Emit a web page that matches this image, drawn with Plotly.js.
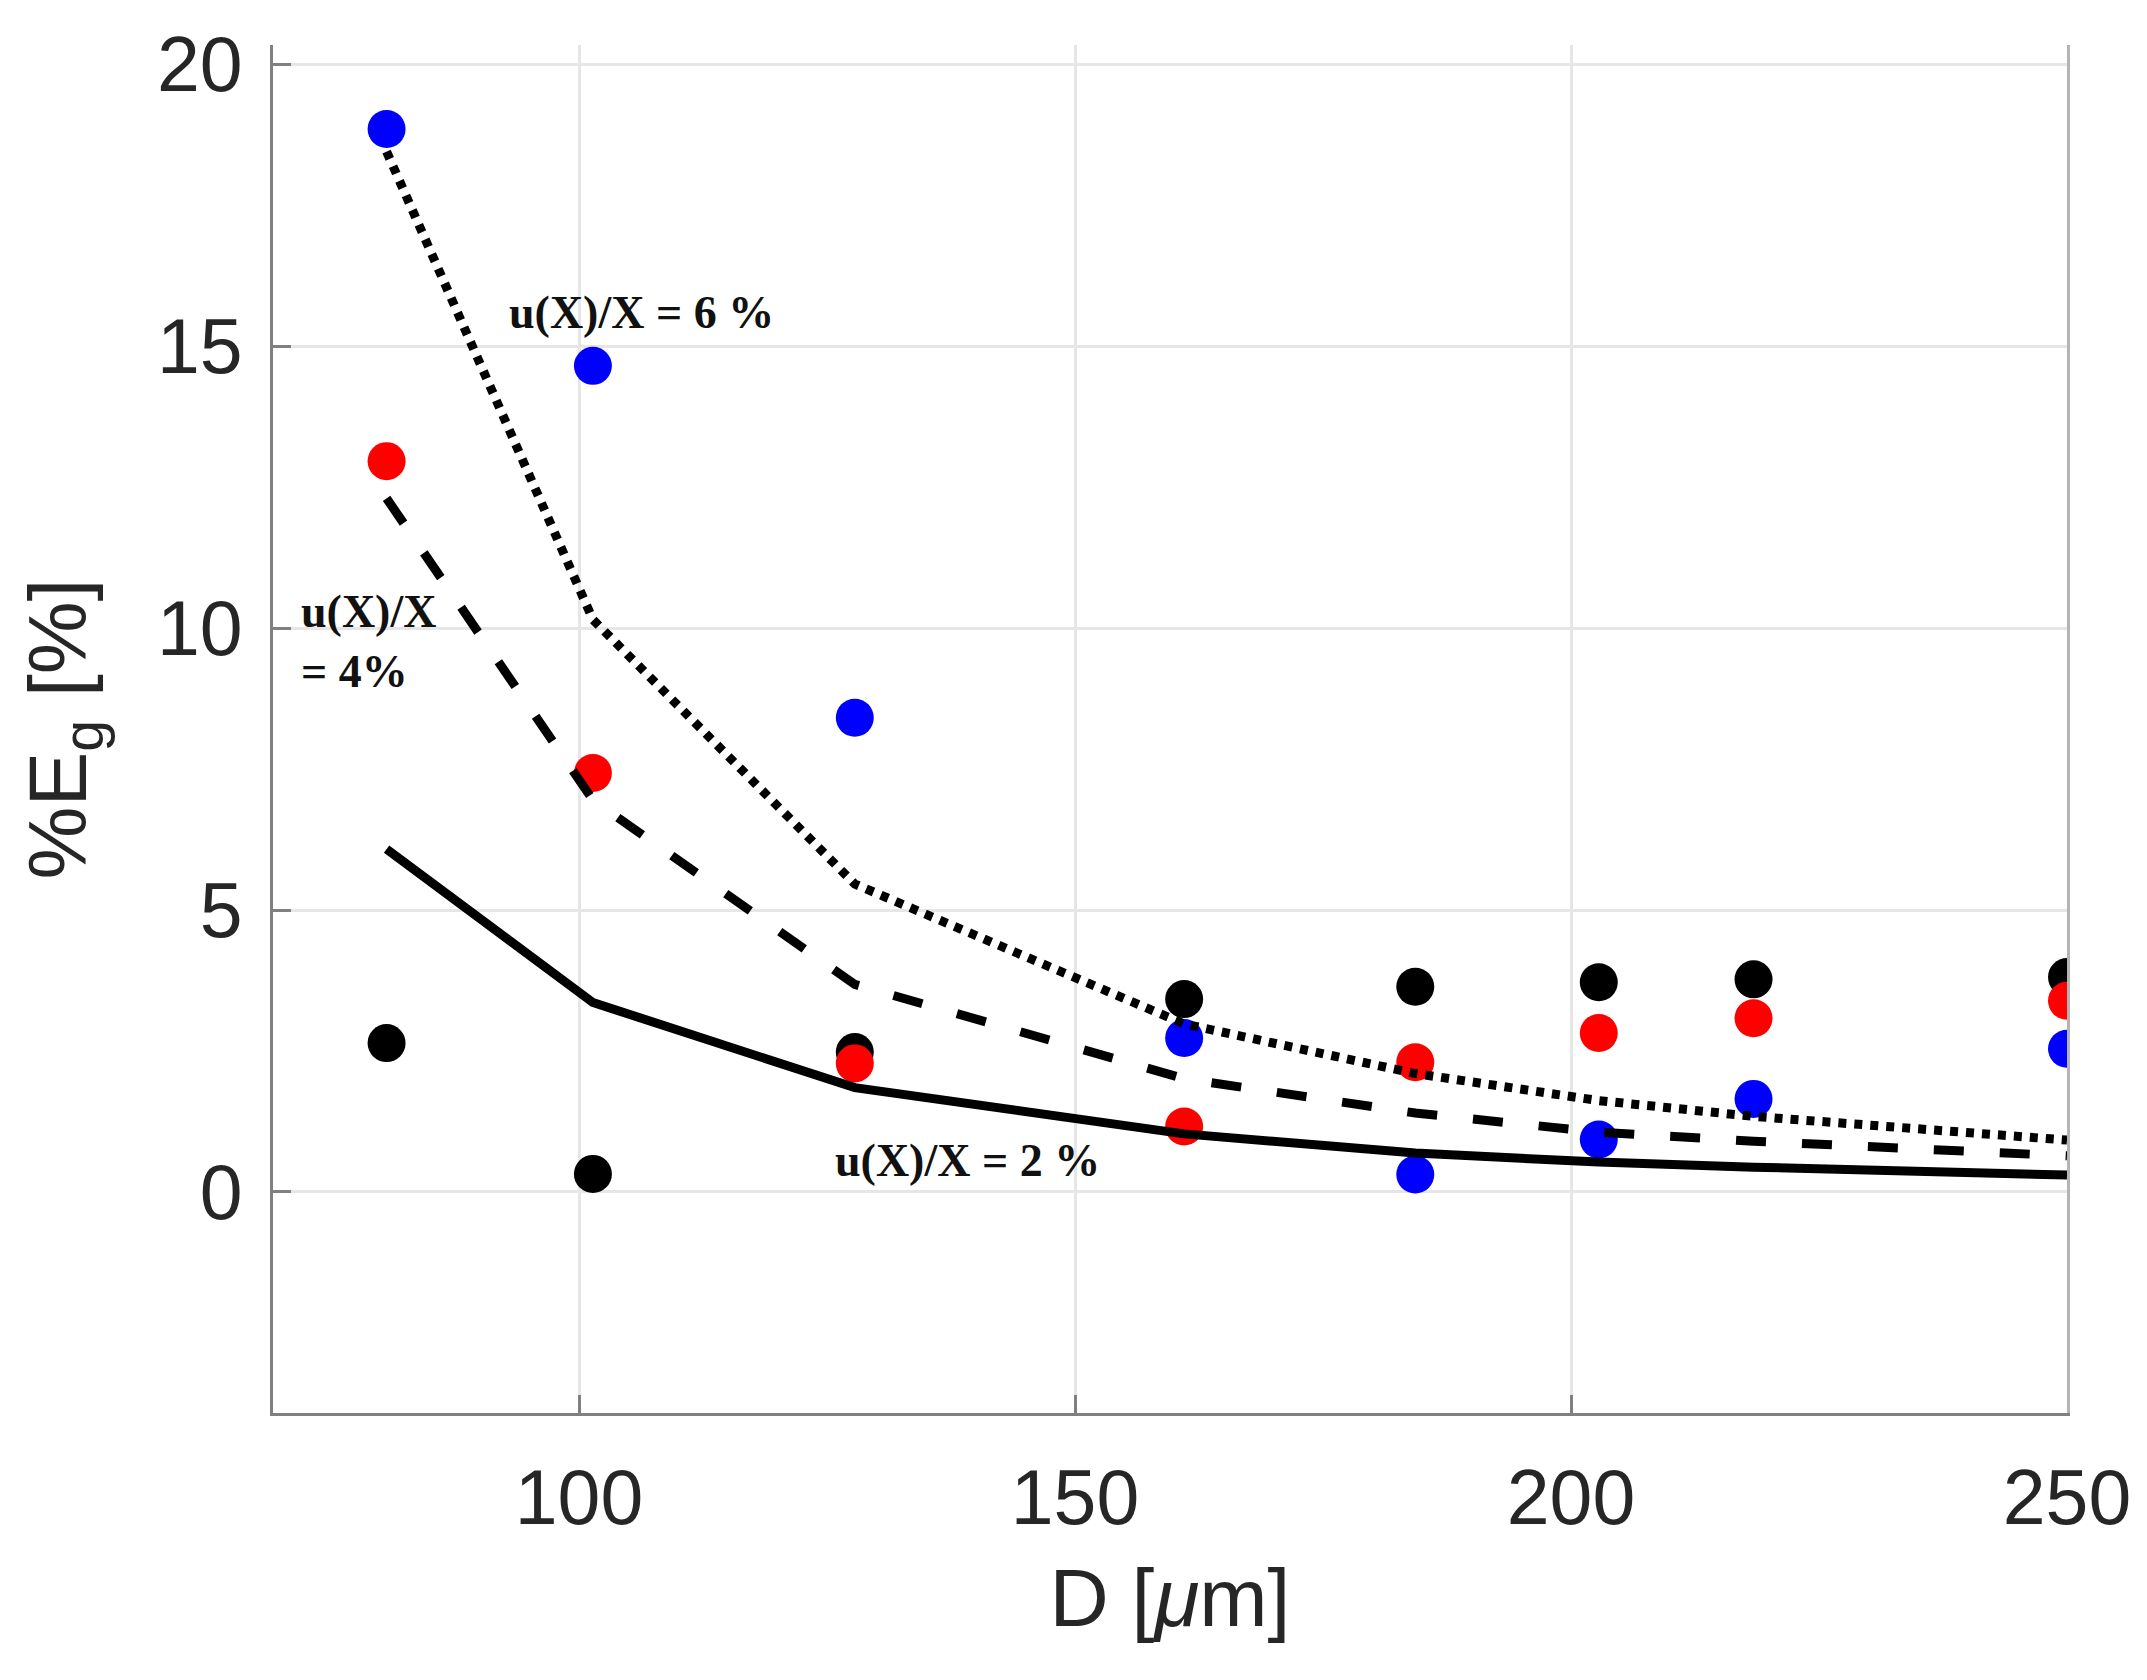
<!DOCTYPE html>
<html>
<head>
<meta charset="utf-8">
<script src="https://cdn.plot.ly/plotly-3.0.1.min.js"></script>
<style>
  html, body { margin: 0; padding: 0; background: #fff; }
  #chart { width: 2147px; height: 1680px; }
</style>
</head>
<body>
<div id="chart"></div>
<script>
// Particle diameter D [um]
const diameters = [80.6, 101.4, 127.8, 161.0, 184.3, 202.8, 218.4, 250];

// %Eg measured points
const blackPts = [2.64, 0.32, 2.48, 3.42, 3.64, 3.72, 3.77, 3.81];
const redPts   = [12.96, 7.43, 2.28, 1.16, 2.30, 2.82, 3.08, 3.39];
const bluePts  = [18.85, 14.65, 8.41, 2.73, 0.31, 0.93, 1.65, 2.54];

// u(X)/X curves
const curve2 = [6.08, 3.36, 1.85, 1.03, 0.69, 0.53, 0.44, 0.30];
const curve4 = [12.3, 6.95, 3.68, 2.01, 1.40, 1.06, 0.90, 0.64];
const curve6 = [18.45, 10.15, 5.46, 2.98, 2.10, 1.62, 1.34, 0.92];

const xTicks = [100, 150, 200, 250];
const yTicks = [0, 5, 10, 15, 20];

const axisGray = '#808080';
const tickFont = { family: 'Liberation Sans, Arial, sans-serif', size: 77, color: '#262626' };
const titleFont = { family: 'Liberation Sans, Arial, sans-serif', size: 82, color: '#262626' };
const noteFont = { family: 'Liberation Serif, Times New Roman, serif', size: 46, color: '#111', weight: 'bold' };

const dots = (y, color) => ({
    x: diameters, y, type: 'scatter', mode: 'markers', hoverinfo: 'skip',
    marker: { color, size: 38, line: { width: 0 } },
});
const curve = (y, dash) => ({
    x: diameters, y, type: 'scatter', mode: 'lines', hoverinfo: 'skip',
    line: { color: '#000', width: 9, dash },
});

// markers first, lines painted over them like in the original
const traces = [
    dots(blackPts, '#000000'),
    dots(redPts, '#ff0000'),
    dots(bluePts, '#0000ff'),
    curve(curve2, 'solid'),
    curve(curve4, '30px,36px'),
    curve(curve6, '8px,8px'),
];

const baseAxis = {
    ticks: 'inside', ticklen: 18, tickwidth: 3, tickcolor: axisGray,
    showline: true, linecolor: axisGray, linewidth: 3,
    showgrid: true, gridcolor: '#e6e6e6', gridwidth: 3,
    zeroline: false, tickfont: tickFont,
};

const layout = {
    width: 2147, height: 1680,
    margin: { l: 273, r: 80, t: 45, b: 267 },
    paper_bgcolor: '#fff', plot_bgcolor: '#fff',
    showlegend: false,
    xaxis: Object.assign({}, baseAxis, {
        range: [69.15, 250], tickvals: xTicks, ticktext: xTicks.map(String),
        ticklabelstandoff: 16,
        title: { text: 'D [<i>μ</i>m]', standoff: 30, font: titleFont },
    }),
    yaxis: Object.assign({}, baseAxis, {
        range: [-3.92, 20.34], tickvals: yTicks, ticktext: yTicks.map(String),
        ticklabelstandoff: 12,
        title: { text: '%E<sub>g</sub> [%]', standoff: 44, font: titleFont },
    }),
    // right-hand edge line only (no top line)
    yaxis2: {
        overlaying: 'y', side: 'right', range: [-3.92, 20.34],
        showline: true, linecolor: '#b4b4b4', linewidth: 3,
        showgrid: false, zeroline: false, showticklabels: false, ticks: '',
    },
    annotations: [
        { x: 92.7, y: 15.59, xref: 'x', yref: 'y', text: 'u(X)/X = 6 %',
          showarrow: false, xanchor: 'left', yanchor: 'middle', font: noteFont },
        { x: 71.8, y: 9.77, xref: 'x', yref: 'y', text: 'u(X)/X<br>= 4%', align: 'left',
          showarrow: false, xanchor: 'left', yanchor: 'middle', font: noteFont },
        { x: 125.6, y: 0.55, xref: 'x', yref: 'y', text: 'u(X)/X = 2 %',
          showarrow: false, xanchor: 'left', yanchor: 'middle', font: noteFont },
    ],
};

// dummy trace so the right edge axis gets drawn
traces.push({ x: [diameters[0]], y: [null], yaxis: 'y2', type: 'scatter', mode: 'markers',
              hoverinfo: 'skip', showlegend: false });

Plotly.newPlot('chart', traces, layout, { displayModeBar: false, staticPlot: true });
</script>
</body>
</html>
